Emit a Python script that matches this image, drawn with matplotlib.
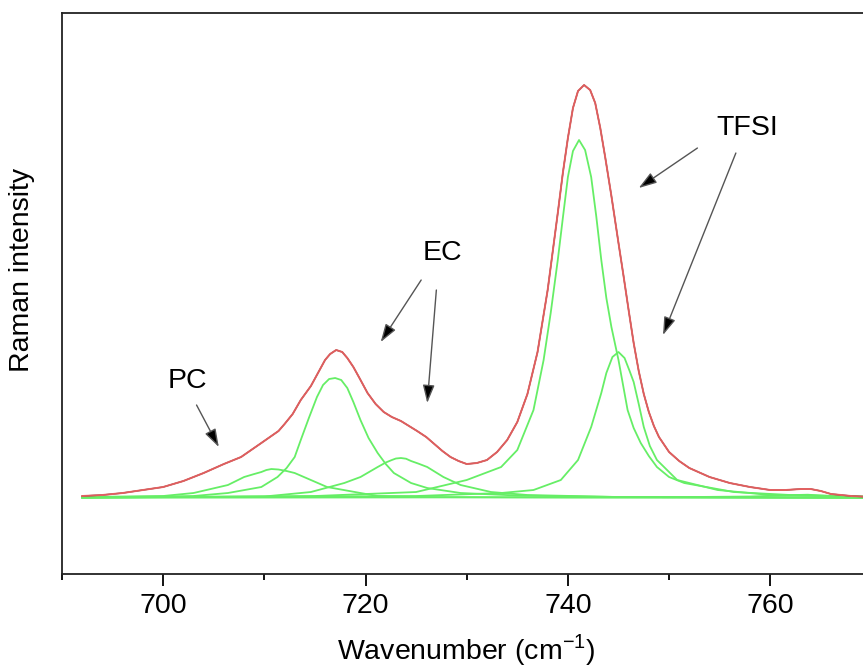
"""Raman band deconvolution plot (PC / EC / TFSI region).

Measured spectrum (black), total fit (red) and fitted components (green),
read off the reference figure.
"""

import matplotlib

matplotlib.use("Agg")
import matplotlib.pyplot as plt
from matplotlib.ticker import MultipleLocator

# --- data (intensity in arbitrary units, baseline = 0) ---------------------
fit_x = [692, 694, 696, 698, 700, 702, 704, 706, 707.7, 709.7, 711.4, 712.0,
         712.8, 713.6, 714.6, 715.3, 716.0, 716.5, 717.1, 717.7, 718.2, 718.8,
         719.4, 720.2, 721.0, 721.8, 722.6, 723.5, 724.3, 725.1, 726.0, 726.8,
         727.6, 728.4, 729.2, 730.0, 731.0, 732.0, 733.0, 734.0, 735.0, 736.0,
         737.0, 738.0, 739.0, 739.5, 740.0, 740.5, 741.0, 741.6, 742.2, 742.7,
         743.2, 743.7, 744.3, 745.0, 745.5, 746.0, 746.5, 747.0, 747.5, 748.0,
         748.5, 749.0, 750.0, 751.0, 752.0, 754.0, 756.0, 758.0, 760.0, 761.5,
         763.0, 764.0, 765.0, 766.0, 768.0, 770.0]
fit_y = [2, 3, 5, 8, 11, 17, 25, 34, 41, 55, 67, 74, 84, 98, 112, 125, 138,
         144, 148, 146, 140, 131, 120, 105, 94, 86, 81, 77, 72, 67, 61, 54, 47,
         41, 37, 34, 35, 38, 46, 58, 76, 104, 146, 208, 285, 325, 360, 390,
         407, 413, 408, 395, 370, 340, 302, 255, 222, 188, 155, 127, 104, 86,
         72, 61, 46, 37, 30, 21, 15, 11, 8, 8, 9, 9, 7, 4, 2, 1]

# fitted components
pc_x = [692, 700, 703.0, 706.4, 708.0, 709.0, 709.7, 710.2, 710.7, 711.4,
        712.2, 713.0, 714.6, 716.2, 719.5, 721.2, 726, 740, 770]
pc_y = [1, 2, 5, 13, 21, 24, 26, 28, 29, 28.5, 27, 25, 18, 11, 5, 2, 1, 0.5,
        0]

ec1_x = [692, 703.0, 706.4, 709.7, 711.3, 712.2, 713.0, 713.6, 714.4, 715.2,
         715.8, 716.4, 717.0, 717.6, 718.2, 718.8, 719.5, 720.3, 721.2, 722.0,
         722.8, 724.5, 726.1, 729.4, 735, 745, 770]
ec1_y = [0.5, 2, 5, 11, 21, 30, 41, 58, 80, 101, 113, 119, 120, 118, 110,
         96, 78, 60, 45, 34, 25, 15, 10, 5, 2.5, 1, 0.5]

ec2_x = [692, 710, 714.6, 717.9, 719.5, 721.2, 722.0, 722.6, 723.0, 723.5,
         724.0, 724.5, 725.2, 726.1, 727.7, 729.4, 732.4, 736, 745, 770]
ec2_y = [0.5, 1.5, 6, 15, 21, 31, 35.5, 38, 39.5, 40, 39.3, 37, 34.5, 31, 21,
         13, 6, 3, 1, 0.5]

tfsi1_x = [692, 715, 725, 730.0, 733.4, 735.0, 736.6, 737.6, 738.3, 739.0,
           739.5, 740.0, 740.5, 741.1, 741.7, 742.3, 742.8, 743.3, 743.8,
           744.3, 745.0, 745.9, 746.5, 747.2, 748.0, 748.8, 750.0, 751.5,
           756.4, 762, 770]
tfsi1_y = [0.5, 2, 6, 18, 31, 48, 88, 138, 185, 238, 280, 321, 347, 358, 348,
           321, 282, 238, 200, 171, 138, 88, 70, 55, 42, 31, 21, 15, 6, 3, 1.5]

tfsi2_x = [692, 725, 733.4, 736.6, 739.3, 741.0, 742.3, 743.3, 743.8, 744.4,
           745.0, 745.6, 746.1, 746.5, 747.0, 747.5, 748.1, 748.8, 750.8,
           754.8, 760, 770]
tfsi2_y = [0.5, 2, 5, 8, 18, 38, 71, 105, 125, 141, 146, 140, 127, 116, 94,
           71, 52, 38, 18, 8, 3, 1]

small_x = [692, 750, 758, 761, 762.5, 763.7, 765.0, 767, 770]
small_y = [0.3, 0.8, 1.5, 2.5, 3, 3.3, 2.5, 1.2, 0.5]

components = [
    (pc_x, pc_y),
    (ec1_x, ec1_y),
    (ec2_x, ec2_y),
    (tfsi1_x, tfsi1_y),
    (tfsi2_x, tfsi2_y),
    (small_x, small_y),
]

# annotation labels: (text, text position, [(arrow tail, arrow tip), ...])
labels = [
    ("PC", (702.4, 117), [((703.3, 93), (705.5, 51))]),
    ("EC", (727.6, 245), [((725.5, 218), (721.5, 156)),
                          ((727.0, 208), (726.1, 95))]),
    ("TFSI", (757.7, 370), [((752.8, 350), (747.0, 310)),
                            ((756.6, 345), (749.4, 163))]),
]

# --- style ------------------------------------------------------------------
_FONT = ["Liberation Sans", "DejaVu Sans"]
_FONT_SIZE = 20.5
_GREEN = "#66ee66"
_RED = "#f06262"
_ARROW_LINE = "#555555"


def render(output="out.png"):
    plt.rcParams["font.family"] = _FONT
    plt.rcParams["mathtext.fontset"] = "custom"
    plt.rcParams["mathtext.rm"] = "Liberation Sans"
    fig = plt.figure(figsize=(8.63, 6.68), dpi=100)
    ax = fig.add_axes([0.0718, 0.1407, 0.938, 0.8398])

    for cx, cy in components:
        ax.plot(cx, cy, color=_GREEN, lw=1.3, zorder=2,
                solid_joinstyle="round")
    # measured spectrum sits under the fit; only a dark fringe shows through
    ax.plot(fit_x, fit_y, color="#202020", lw=1.0, zorder=3,
            solid_joinstyle="round")
    ax.plot(fit_x, fit_y, color=_RED, lw=1.4, alpha=0.92, zorder=4,
            solid_joinstyle="round")

    for text, pos, arrows in labels:
        ax.text(pos[0], pos[1], text, ha="center", va="center",
                fontsize=_FONT_SIZE)
        for tail, tip in arrows:
            ax.annotate(
                "", xy=tip, xytext=tail,
                arrowprops=dict(
                    arrowstyle="-|>,head_length=0.55,head_width=0.18",
                    mutation_scale=20, lw=1.0,
                    edgecolor=_ARROW_LINE, facecolor="black",
                    shrinkA=0, shrinkB=0,
                ),
            )

    ax.set_xlim(690, 770)
    ax.set_ylim(-76, 485)
    ax.xaxis.set_major_locator(MultipleLocator(20))
    ax.xaxis.set_minor_locator(MultipleLocator(10))
    ax.tick_params(axis="x", which="major", length=8.4, width=1.3,
                   pad=5.5, labelsize=_FONT_SIZE)
    ax.tick_params(axis="x", which="minor", length=4.3, width=1.3)
    ax.set_yticks([])
    for spine in ax.spines.values():
        spine.set_linewidth(1.3)
        spine.set_color("#222222")

    ax.set_xlabel("Wavenumber (cm$^{-1}$)", fontsize=_FONT_SIZE,
                  labelpad=9)
    fig.text(22 / 863, 1 - 270 / 668, "Raman intensity", rotation=90,
             ha="center", va="center", fontsize=_FONT_SIZE)

    fig.savefig(output, dpi=100)
    plt.close(fig)


if __name__ == "__main__":
    render()
